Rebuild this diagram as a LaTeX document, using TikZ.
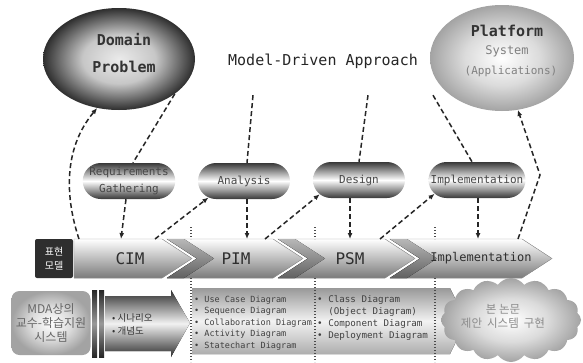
\documentclass[tikz,border=0pt]{standalone}
\usepackage{fontspec}
\setmainfont{DejaVu Sans}
\setmonofont{DejaVu Sans Mono}
\newfontfamily\kr{Noto Sans CJK KR}
\usetikzlibrary{shapes.geometric,shapes.misc,shapes.symbols,arrows.meta}

% colours used by the glow shadings
\colorlet{glowA}{black!8}
\colorlet{glowB}{black!22}
\colorlet{glowC}{black!82}
\colorlet{liteA}{white}
\colorlet{liteB}{black!14}
\colorlet{liteC}{black!36}
\pgfdeclareradialshading{darkglow}{\pgfpoint{0bp}{0bp}}{color(0bp)=(glowA); color(12bp)=(glowB); color(25bp)=(glowC); color(50bp)=(glowC)}
\pgfdeclareradialshading{lightglow}{\pgfpoint{0bp}{0bp}}{color(0bp)=(liteA); color(13bp)=(liteB); color(25bp)=(liteC); color(50bp)=(liteC)}

\tikzset{
  pill/.style={rounded rectangle, minimum width=92pt, minimum height=36pt, inner sep=0pt,
    top color=black!78, bottom color=black!78, middle color=white,
    font=\ttfamily\fontsize{11}{17}\selectfont, text=black!72, align=center},
  chev/.style={top color=white, bottom color=black!52, draw=black!40, line width=0.4pt},
  bevel/.style={top color=black!28, bottom color=black!62},
  chevtext/.style={font=\ttfamily\fontsize{16}{18}\selectfont, text=black!82, inner sep=0pt},
  dashflow/.style={line width=1.5pt, dash pattern=on 5pt off 3pt, black!85},
  arr/.style={-{Latex[length=6pt,width=5pt]}},
  dotline/.style={line width=1.2pt, dash pattern=on 1.2pt off 1.8pt, black!70},
  listtext/.style={font=\ttfamily, text=black!75, align=left, anchor=west, inner sep=0pt},
  barshade/.style={top color=black!85, bottom color=black!85, middle color=black!40},
}

\begin{document}
\begin{tikzpicture}[x=1pt, y=-1pt]
\useasboundingbox[fill=white] (0,0) rectangle (583,362);

% ---- upper level: problem, approach, platform
\node[ellipse, minimum width=152pt, minimum height=102pt, inner sep=0pt, shading=darkglow] (dom) at (119,59) {};
\node[font=\ttfamily\bfseries\fontsize{15}{27}\selectfont, align=center, text=black!80] (domtxt) at (124,53) {Domain\\Problem};

\node[font=\ttfamily\fontsize{15}{18}\selectfont, text=black!85, minimum width=230pt, minimum height=68pt, inner sep=0pt] (mda) at (323,61) {Model-Driven Approach};

\node[ellipse, minimum width=144pt, minimum height=106pt, inner sep=0pt, shading=lightglow] (plat) at (502,58) {};
\node[font=\ttfamily\bfseries\fontsize{15}{18}\selectfont, text=black!80] (plat1) at (507,31) {Platform};
\node[font=\ttfamily\fontsize{12}{14}\selectfont, text=black!50] (plat2) at (507,51) {System};
\node[font=\ttfamily\fontsize{11}{14}\selectfont, text=black!50] (plat3) at (511,71) {(Applications)};

% ---- activities
\node[pill] (req) at (129,181) {Requirements\\Gathering};
\node[pill] (ana) at (244,181) {Analysis};
\node[pill] (des) at (359,180) {Design};
\node[pill, minimum width=97pt] (imp) at (477,180) {Implementation};

% ---- model band
\node[fill=black!82, rounded corners=2pt, minimum width=38pt, minimum height=39pt, inner sep=0pt,
      text=white, font=\kr\fontsize{10}{14}\selectfont, align=center] (repr) at (54,258.5) {표현\\모델};

\fill[chev] (74,239) -- (162,239) -- (192,258.5) -- (162,278) -- (74,278) -- cycle;
\fill[chev] (167,239) -- (273,239) -- (303,258.5) -- (273,278) -- (167,278) -- (197,258.5) -- cycle;
\fill[bevel] (167,239) -- (184,239) -- (214,258.5) -- (184,278) -- (167,278) -- (197,258.5) -- cycle;
\fill[chev] (278,239) -- (385,239) -- (415,258.5) -- (385,278) -- (278,278) -- (308,258.5) -- cycle;
\fill[bevel] (278,239) -- (295,239) -- (325,258.5) -- (295,278) -- (278,278) -- (308,258.5) -- cycle;
\fill[chev] (390,239) -- (522,239) -- (552,258.5) -- (522,278) -- (390,278) -- (420,258.5) -- cycle;
\fill[bevel] (390,239) -- (407,239) -- (437,258.5) -- (407,278) -- (390,278) -- (420,258.5) -- cycle;

\node[chevtext] (cim) at (130,258.5) {CIM};
\node[chevtext] (pim) at (236,258.5) {PIM};
\node[chevtext] (psm) at (350,258.5) {PSM};
\node[chevtext, font=\ttfamily\fontsize{12}{14}\selectfont] (impl) at (481,258.5) {Implementation};

\coordinate (cimL) at (79,239);
\coordinate (cimA) at (121,239);
\coordinate (cimB) at (155,239);
\coordinate (pimA) at (247,239);
\coordinate (pimB) at (265,239);
\coordinate (psmA) at (350,239);
\coordinate (psmB) at (380,239);
\coordinate (implA) at (478,239);
\coordinate (implB) at (518,239);
\coordinate (bend) at (540,175);

% ---- bottom level: artefacts per model
\fill[top color=black!40, bottom color=black!32, middle color=black!5]
  (192,288) -- (450,288) -- (466,321) -- (450,354) -- (192,354) -- cycle;

\foreach \xx in {191,315,435} {
  \draw[dotline] (\xx,227) -- (\xx,239);
  \draw[dotline] (\xx,278) -- (\xx,362);
}

\node[rounded corners=8pt, minimum width=79pt, minimum height=64pt, inner sep=0pt, shading=lightglow,
      font=\kr\fontsize{12}{14}\selectfont, text=black!60, align=center] (mdabox) at (51,323) {MDA상의\\교수-학습지원\\시스템};

\fill[barshade] (92,290) rectangle (97,357);
\fill[barshade] (99,290) rectangle (104,357);
\fill[top color=black!82, bottom color=black!82, middle color=black!5]
  (105,296) -- (171,296) -- (171,290) -- (190,323) -- (171,357) -- (171,351) -- (105,351) -- cycle;
\node[font=\kr\fontsize{9.5}{13}\selectfont, text=black!80, align=left, anchor=west, inner sep=0pt] (scen) at (112,324.5) {• 시나리오\\• 개념도};

\node[listtext, font=\ttfamily\fontsize{8.5}{11.5}\selectfont] (pimlist) at (194,323)
  {• Use Case Diagram\\• Sequence Diagram\\• Collaboration Diagram\\• Activity Diagram\\• Statechart Diagram};
\node[listtext, font=\ttfamily\fontsize{9.2}{12}\selectfont] (psmlist) at (317,318)
  {• Class Diagram\\\hphantom{• }(Object Diagram)\\• Component Diagram\\• Deployment Diagram};

\node[cloud, cloud puffs=16, cloud puff arc=110, minimum width=140pt, minimum height=84pt,
      cloud ignores aspect, inner sep=0pt, shading=lightglow] (impcloud) at (511,320) {};
\node[font=\kr\fontsize{11.5}{14}\selectfont, text=black!45, align=center] (cloudtxt) at (503,316)
  {본 논문\\제안\hspace{5pt}시스템\hspace{5pt}구현};

% ---- connectors
\draw[dashflow, arr] (cimL) .. controls (66,200) and (62,150) .. (dom.-114);
\draw[dashflow] (dom.-32) -- ([xshift=4pt]req.north);
\draw[dashflow, arr] ([xshift=-3pt]req.south) -- (cimA);
\draw[dashflow, arr] (cimB) -- (ana.-155);
\draw[dashflow] ([xshift=-70pt]mda.south) -- ([xshift=3pt]ana.north);
\draw[dashflow, arr] ([xshift=3pt]ana.south) -- (pimA);
\draw[dashflow, arr] (pimB) -- (des.-160);
\draw[dashflow] ([xshift=45pt]mda.south) -- (des.north);
\draw[dashflow, arr] ([xshift=-9pt]des.south) -- (psmA);
\draw[dashflow, arr] (psmB) -- (imp.-162);
\draw[dashflow] ([xshift=110pt]mda.south) -- ([xshift=-5pt]imp.north);
\draw[dashflow, arr] ([xshift=1pt]imp.south) -- (implA);
\draw[dashflow, arr] (implB) -- (bend) -- (plat.-73);
\end{tikzpicture}
\end{document}
